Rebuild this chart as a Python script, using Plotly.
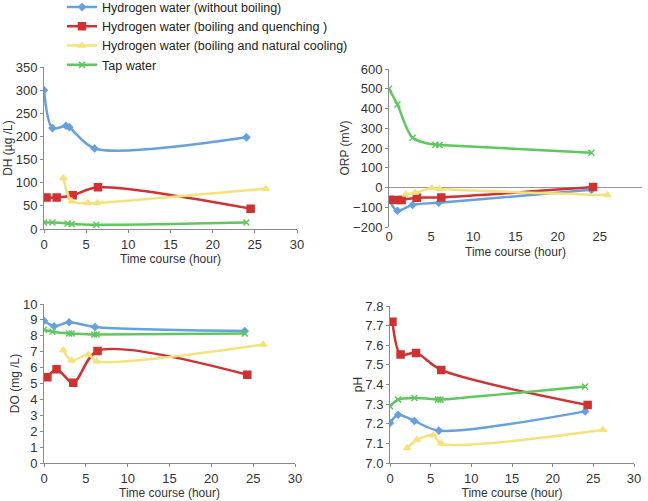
import plotly.graph_objects as go

# ---------------- data ----------------
series_names = ["Hydrogen water (without boiling)",
                "Hydrogen water (boiling and quenching )",
                "Hydrogen water (boiling and natural cooling)",
                "Tap water"]

# DH (ug/L)
dh_blue_t = [0, 1, 2.6, 3, 6, 24]
dh_blue_v = [300, 218, 223, 220, 174, 198]
dh_red_t = [0.3, 1.5, 3.4, 6.4, 24.5]
dh_red_v = [68, 68, 73, 90, 44]
dh_yel_t = [2.3, 3.3, 5.2, 6.3, 26.3]
dh_yel_v = [110, 60, 56, 56, 87]
dh_grn_t = [0, 1, 2.8, 3.3, 6.2, 24]
dh_grn_v = [14, 14, 12, 11, 9, 14]

# ORP (mV)
orp_blue_t = [0, 1, 2.8, 5.9, 24]
orp_blue_v = [-62, -118, -88, -77, -12]
orp_red_t = [0.1, 1, 1.5, 3.3, 6.2, 24.2]
orp_red_v = [-62, -63, -63, -52, -50, 2]
orp_yel_t = [2.0, 3.1, 5.1, 6.0, 25.9]
orp_yel_v = [-35, -27, -3, -8, -38]
orp_grn_t = [0, 1, 2.8, 5.5, 6, 24]
orp_grn_v = [500, 420, 252, 216, 215, 176]

# DO (mg/L)
do_blue_t = [0, 1.2, 3, 6.1, 24]
do_blue_v = [8.95, 8.6, 8.85, 8.55, 8.3]
do_red_t = [0.4, 1.5, 3.5, 6.4, 24.3]
do_red_v = [5.4, 5.9, 5.05, 7.05, 5.55]
do_yel_t = [2.3, 3.3, 5.3, 6.3, 26.2]
do_yel_v = [7.1, 6.45, 6.82, 6.4, 7.45]
do_grn_t = [0, 1, 3, 3.3, 6, 6.3, 24]
do_grn_v = [8.38, 8.25, 8.15, 8.15, 8.08, 8.08, 8.15]

# pH
ph_blue_t = [0, 1, 3, 6, 24]
ph_blue_v = [7.204, 7.246, 7.214, 7.165, 7.263]
ph_red_t = [0.3, 1.3, 3.2, 6.3, 24.3]
ph_red_v = [7.72, 7.553, 7.561, 7.474, 7.295]
ph_yel_t = [2.1, 3.3, 5.3, 6.3, 26.2]
ph_yel_v = [7.076, 7.118, 7.141, 7.099, 7.17]
ph_grn_t = [0, 1, 3, 5.9, 6.2, 24]
ph_grn_v = [7.289, 7.323, 7.331, 7.323, 7.323, 7.39]

colors = ["#65a0df", "#d23131", "#f6e27a", "#5dc85d"]
symbols = ["diamond", "square", "triangle-up", "x-thin-open"]
msizes = [5, 7, 6, 6]

panels = [
    ("x", "y", [(dh_blue_t, dh_blue_v), (dh_red_t, dh_red_v), (dh_yel_t, dh_yel_v), (dh_grn_t, dh_grn_v)]),
    ("x2", "y2", [(orp_blue_t, orp_blue_v), (orp_red_t, orp_red_v), (orp_yel_t, orp_yel_v), (orp_grn_t, orp_grn_v)]),
    ("x3", "y3", [(do_blue_t, do_blue_v), (do_red_t, do_red_v), (do_yel_t, do_yel_v), (do_grn_t, do_grn_v)]),
    ("x4", "y4", [(ph_blue_t, ph_blue_v), (ph_red_t, ph_red_v), (ph_yel_t, ph_yel_v), (ph_grn_t, ph_grn_v)]),
]

fig = go.Figure()
for pi, (xa, ya, data) in enumerate(panels):
    for si, (t, v) in enumerate(data):
        fig.add_trace(go.Scatter(
            x=t, y=v, xaxis=xa, yaxis=ya, mode="lines+markers",
            name=series_names[si], showlegend=(pi == 0),
            line=dict(color=colors[si], width=2.5, shape="spline", smoothing=0.85),
            marker=dict(symbol=symbols[si], size=msizes[si], color=colors[si],
                        line=dict(color=colors[si], width=1.5)),
        ))

W, H = 648, 501
def dx(a, b):
    return [a / W, b / W]
def dy(top, bottom):
    return [1 - bottom / H, 1 - top / H]

FAM = "Liberation Sans, Arial, sans-serif"
tickfont = dict(family=FAM, size=13, color="#333")
titlefont = dict(family=FAM, size=12, color="#333")
axcol = "#8a8a8a"

def xax(domain, anchor, showline=True):
    return dict(domain=domain, anchor=anchor, range=[0, 30], dtick=5,
                showgrid=False, zeroline=False, showline=showline, linecolor=axcol,
                ticks="outside" if showline else "", ticklen=3, tickcolor=axcol,
                title=dict(text="Time course (hour)", font=titlefont, standoff=4),
                tickfont=tickfont, automargin=False)

def yax(domain, anchor, rng, dtick, title, fmt=None):
    d = dict(domain=domain, anchor=anchor, range=rng, dtick=dtick,
             showgrid=False, zeroline=False, showline=True, linecolor=axcol,
             ticks="outside", ticklen=3, tickcolor=axcol,
             title=dict(text=title, font=titlefont, standoff=0), tickfont=tickfont,
             automargin=False)
    if fmt:
        d["tickformat"] = fmt
    return d

fig.update_layout(
    width=W, height=H, margin=dict(l=0, r=0, t=0, b=0, autoexpand=False),
    paper_bgcolor="white", plot_bgcolor="white", font=titlefont,
    xaxis=xax(dx(44, 297), "y"),
    yaxis=yax(dy(67, 229), "x", [0, 350], 50, "DH (µg /L)"),
    xaxis2=xax(dx(389, 642), "y2", showline=False),
    yaxis2=yax(dy(69, 227), "x2", [-200, 600], 100, "ORP (mV)"),
    xaxis3=xax(dx(44, 295), "y3"),
    yaxis3=yax(dy(304, 463), "x3", [0, 10], 1, "DO (mg /L)"),
    xaxis4=xax(dx(390, 634), "y4"),
    yaxis4=yax(dy(306, 463), "x4", [7.0, 7.8], 0.1, "pH", ".1f"),
    legend=dict(x=62 / W, y=1.015, xanchor="left", yanchor="top",
                bgcolor="rgba(0,0,0,0)", font=dict(family=FAM, size=12.5, color="#222"),
                tracegroupgap=0, itemwidth=30),
)
fig.update_layout(yaxis2=dict(zeroline=True, zerolinecolor="#999", zerolinewidth=1.2))

fig.write_html("out.html", config={"displayModeBar": False},
               post_script="document.body.style.margin='0';document.body.style.overflow='hidden';")
